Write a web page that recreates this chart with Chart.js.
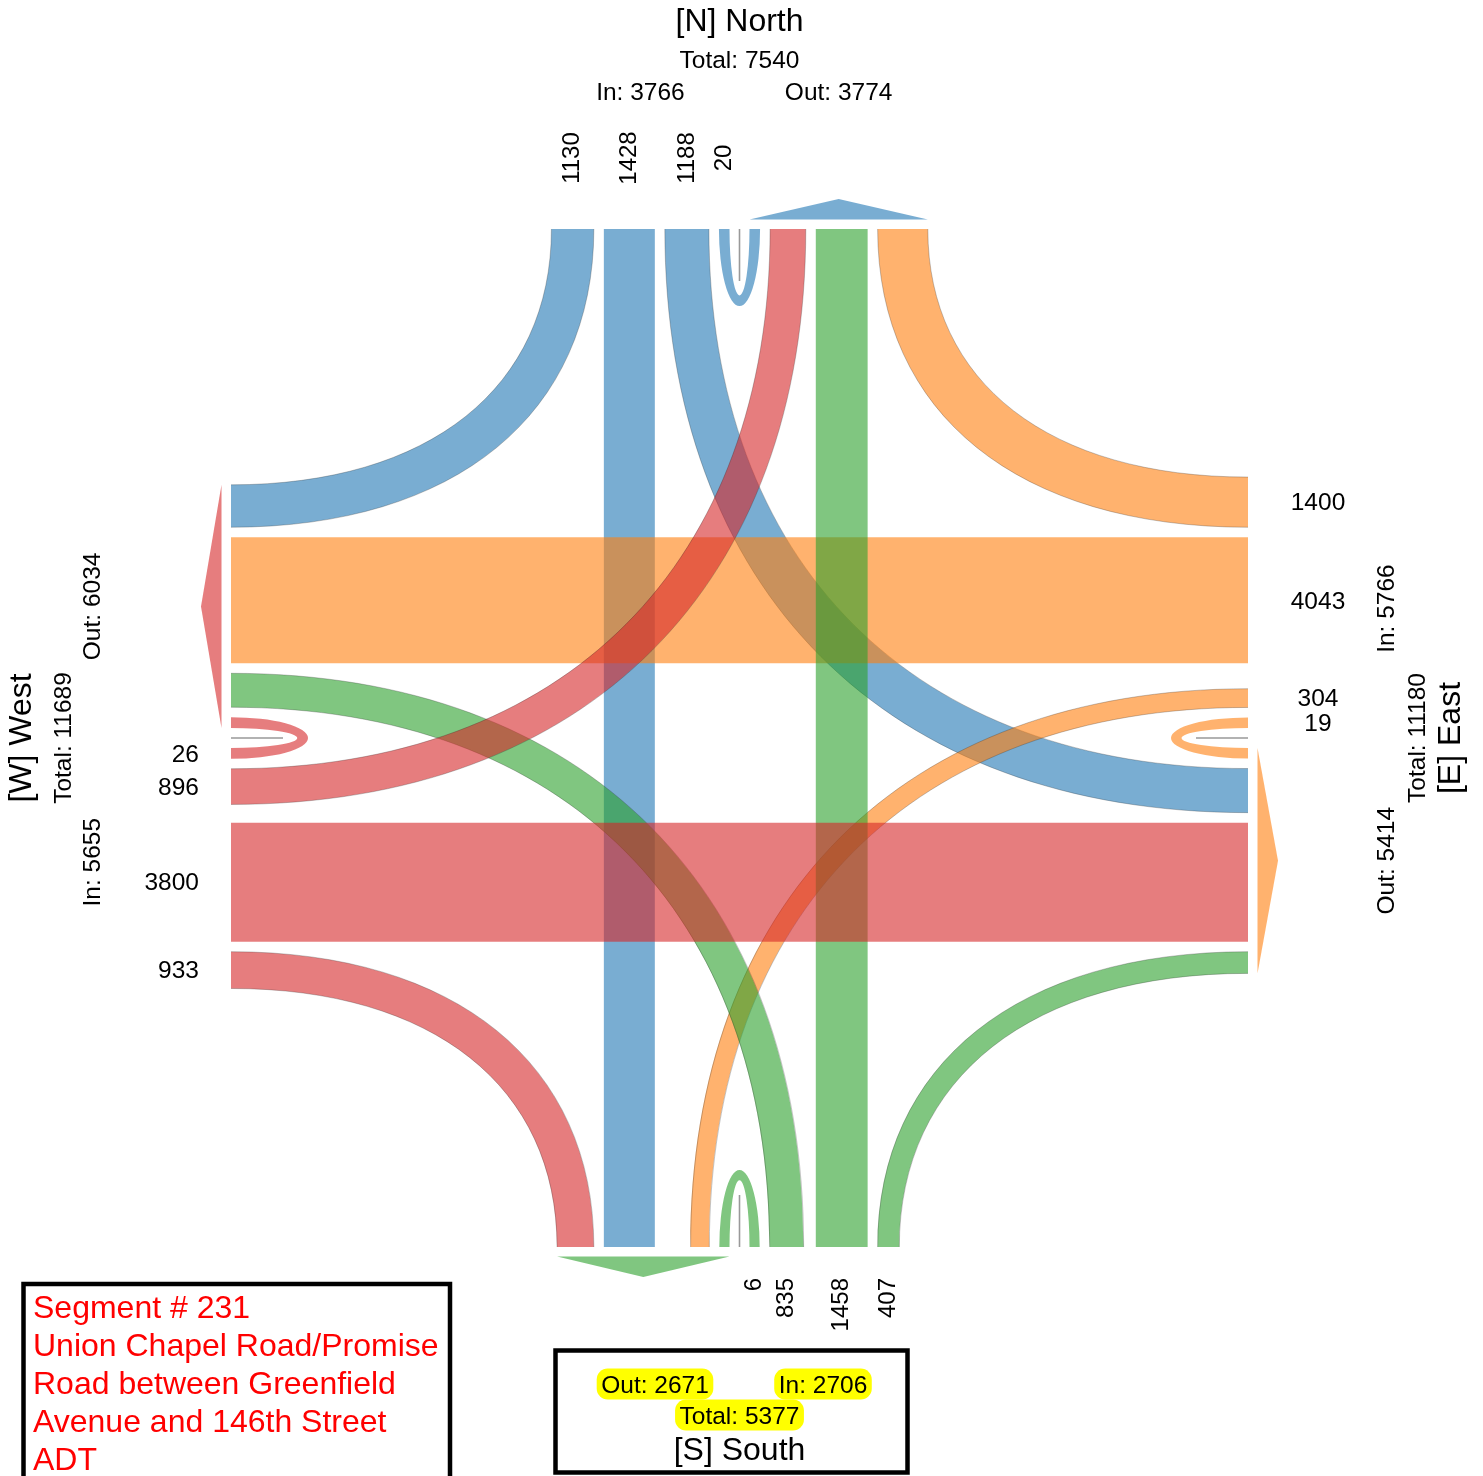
<!DOCTYPE html>
<html>
<head>
<meta charset="utf-8">
<script src="https://cdn.jsdelivr.net/npm/chart.js@4.4.1/dist/chart.umd.min.js"></script>
<style>
  html, body { margin: 0; padding: 0; background: #fff; }
  canvas { display: block; }
</style>
</head>
<body>
<canvas id="turningChart" width="1483" height="1476"></canvas>
<script>
// approaches, clockwise: North, East, South, West
const approaches = ['N', 'E', 'S', 'W'];
const approachTitles = ['[N] North', '[E] East', '[S] South', '[W] West'];

// entering volumes per approach (ADT)
const uTurns = [20, 19, 6, 26];
const leftTurns = [1188, 304, 835, 896];
const throughs = [1428, 4043, 1458, 3800];
const rightTurns = [1130, 1400, 407, 933];

const noteLines = [
    'Segment # 231',
    'Union Chapel Road/Promise',
    'Road between Greenfield',
    'Avenue and 146th Street',
    'ADT'
];

// styling / layout
const sideColors = ['rgba(31,119,180,0.6)', 'rgba(255,127,14,0.6)', 'rgba(44,160,44,0.6)', 'rgba(214,39,40,0.6)'];
const BOX = { left: 231, right: 1248, top: 229, bottom: 1247 };
const CX = (BOX.left + BOX.right) / 2;
const CY = 738;
const GAP = 10;
const MIN_W = 10;
const PX_PER_VEH = 0.0287;
const U_DEPTH = 77;
const CURVE_K = 0.62;   // bezier handle length, fraction of distance to tangent corner
const TXT = 2.5;        // nudge so glyphs sit centred on their anchor
const FONT = "'Liberation Sans', Arial, sans-serif";

const laneWidth = v => MIN_W + v * PX_PER_VEH;
const isNS = i => i === 0 || i === 2;
const edgeOf = i => [BOX.top, BOX.right, BOX.bottom, BOX.left][i];
const inSign = [-1, -1, 1, 1];
const outward = [-1, 1, 1, -1];

// position along the edge for an offset from the centre line
function along(i, off, isIn) {
    const c = isNS(i) ? CX : CY;
    return c + (isIn ? inSign[i] : -inSign[i]) * off;
}

// lane intervals (offsets from centre line)
const inU = [], inL = [], inT = [], inR = [];
const outU = [], outL = [], outT = [], outR = [];
const inCand = [], outCand = [];
for (let i = 0; i < 4; i++) {
    inU[i] = [GAP, GAP + laneWidth(uTurns[i])];
    inL[i] = [inU[i][1] + GAP, inU[i][1] + GAP + laneWidth(leftTurns[i])];
    inCand[i] = inL[i][1] + GAP;
    outU[i] = [GAP, GAP + laneWidth(uTurns[i])];
    const lw = laneWidth(leftTurns[(i + 3) % 4]);
    outL[i] = [outU[i][1] + GAP, outU[i][1] + GAP + lw];
    outCand[i] = outL[i][1] + GAP;
}
for (let i = 0; i < 4; i++) {
    const j = (i + 2) % 4;
    const off = Math.max(inCand[i], outCand[j]);
    inT[i] = [off, off + laneWidth(throughs[i])];
    outT[j] = inT[i];
    inR[i] = [inT[i][1] + GAP, inT[i][1] + GAP + laneWidth(rightTurns[i])];
}
for (let j = 0; j < 4; j++) {
    const w = laneWidth(rightTurns[(j + 1) % 4]);
    outR[j] = [outT[j][1] + GAP, outT[j][1] + GAP + w];
}

const inTotals = approaches.map((_, i) => uTurns[i] + leftTurns[i] + throughs[i] + rightTurns[i]);
const outTotals = approaches.map((_, j) => uTurns[j] + leftTurns[(j + 3) % 4] + throughs[(j + 2) % 4] + rightTurns[(j + 1) % 4]);

const ribbonPlugin = {
    id: 'ribbons',
    afterDatasetsDraw(chart) {
        const ctx = chart.ctx;
        const X = v => chart.scales.x.getPixelForValue(v);
        const Y = v => chart.scales.y.getPixelForValue(v);

        // point on side i: along-edge coordinate a, distance d outwards from the edge
        const pt = (i, a, d) => isNS(i)
            ? { x: X(a), y: Y(edgeOf(i) + outward[i] * d) }
            : { x: X(edgeOf(i) + outward[i] * d), y: Y(a) };

        function straight(i, iv, color) {
            const j = (i + 2) % 4;
            const a0 = along(i, iv[0], true), a1 = along(i, iv[1], true);
            const p = [pt(i, a0, 0), pt(i, a1, 0), pt(j, a1, 0), pt(j, a0, 0)];
            ctx.beginPath();
            ctx.moveTo(p[0].x, p[0].y);
            for (let k = 1; k < 4; k++) ctx.lineTo(p[k].x, p[k].y);
            ctx.closePath();
            ctx.fillStyle = color;
            ctx.fill();
        }

        // bezier edge from A (on side i) to B (on side j)
        function edgeCurve(A, B, iNS, moveFirst) {
            const C = iNS ? { x: A.x, y: B.y } : { x: B.x, y: A.y };
            if (moveFirst) ctx.moveTo(A.x, A.y);
            ctx.bezierCurveTo(A.x + CURVE_K * (C.x - A.x), A.y + CURVE_K * (C.y - A.y),
                B.x + CURVE_K * (C.x - B.x), B.y + CURVE_K * (C.y - B.y), B.x, B.y);
        }

        function turn(i, iv, j, ov, color) {
            const corner = isNS(i) ? { x: X(edgeOf(j)), y: Y(edgeOf(i)) } : { x: X(edgeOf(i)), y: Y(edgeOf(j)) };
            let A = [pt(i, along(i, iv[0], true), 0), pt(i, along(i, iv[1], true), 0)];
            let B = [pt(j, along(j, ov[0], false), 0), pt(j, along(j, ov[1], false), 0)];
            const dist = p => Math.hypot(p.x - corner.x, p.y - corner.y);
            A.sort((p, q) => dist(p) - dist(q));
            B.sort((p, q) => dist(p) - dist(q));
            // outer edge pairs far ends, inner edge pairs near ends
            ctx.beginPath();
            edgeCurve(A[1], B[1], isNS(i), true);
            ctx.lineTo(B[0].x, B[0].y);
            edgeCurve(B[0], A[0], !isNS(i), false);
            ctx.closePath();
            ctx.fillStyle = color;
            ctx.fill();
            ctx.strokeStyle = 'rgba(40,40,40,0.45)';
            ctx.lineWidth = 0.6;
            for (let k = 0; k < 2; k++) {
                ctx.beginPath();
                edgeCurve(A[k], B[k], isNS(i), true);
                ctx.stroke();
            }
        }

        function uLoop(i, color) {
            const w = laneWidth(uTurns[i]);
            const base = pt(i, isNS(i) ? CX : CY, 0);
            const theta = [Math.PI / 2, Math.PI, -Math.PI / 2, 0][i];
            const alongPx = off => isNS(i) ? Math.abs(X(CX + off) - X(CX)) : Math.abs(Y(CY + off) - Y(CY));
            const depthPx = dd => isNS(i) ? Math.abs(Y(edgeOf(i) + dd) - Y(edgeOf(i))) : Math.abs(X(edgeOf(i) + dd) - X(edgeOf(i)));
            const aO = alongPx(GAP + w), aI = alongPx(GAP);
            const dO = depthPx(U_DEPTH), dI = depthPx(U_DEPTH - w);
            const rx = (a, dd) => isNS(i) ? a : dd;
            const ry = (a, dd) => isNS(i) ? dd : a;
            ctx.beginPath();
            ctx.ellipse(base.x, base.y, rx(aO, dO), ry(aO, dO), 0, theta - Math.PI / 2, theta + Math.PI / 2, false);
            ctx.ellipse(base.x, base.y, rx(aI, dI), ry(aI, dI), 0, theta + Math.PI / 2, theta - Math.PI / 2, true);
            ctx.closePath();
            ctx.fillStyle = color;
            ctx.fill();
            // centre line of the approach
            const tip = pt(i, isNS(i) ? CX : CY, -52);
            ctx.beginPath();
            ctx.moveTo(base.x, base.y);
            ctx.lineTo(tip.x, tip.y);
            ctx.strokeStyle = '#999';
            ctx.lineWidth = 1.6;
            ctx.stroke();
        }

        function arrow(i, color) {
            const a0 = along(i, outU[i][0], false);
            const a1 = along(i, outR[i][1], false);
            const p0 = pt(i, a0, 9.5), p1 = pt(i, a1, 9.5), tip = pt(i, (a0 + a1) / 2, 30);
            ctx.beginPath();
            ctx.moveTo(p0.x, p0.y);
            ctx.lineTo(tip.x, tip.y);
            ctx.lineTo(p1.x, p1.y);
            ctx.closePath();
            ctx.fillStyle = color;
            ctx.fill();
        }

        ctx.save();
        for (let i = 0; i < 4; i++) {
            const col = sideColors[i];
            straight(i, inT[i], col);
            turn(i, inR[i], (i + 3) % 4, outR[(i + 3) % 4], col);
            turn(i, inL[i], (i + 1) % 4, outL[(i + 1) % 4], col);
            uLoop(i, col);
            arrow(i, col);
        }
        ctx.restore();

        // ---- text ----
        function label(str, x, y, size, opts = {}) {
            ctx.save();
            if (opts.rotate) {
                ctx.translate(x + TXT, y);
                ctx.rotate(-Math.PI / 2);
            } else {
                ctx.translate(x, y + TXT);
            }
            ctx.font = size + 'px ' + FONT;
            ctx.textAlign = opts.align || 'center';
            ctx.textBaseline = 'middle';
            ctx.fillStyle = opts.color || '#000';
            ctx.fillText(str, 0, 0);
            ctx.restore();
        }

        const laneSets = [[inU, uTurns], [inL, leftTurns], [inT, throughs], [inR, rightTurns]];
        for (let i = 0; i < 4; i++) {
            laneSets.forEach(([ivs, vals]) => {
                const mid = along(i, (ivs[i][0] + ivs[i][1]) / 2, true);
                const s = String(vals[i]);
                if (i === 0) label(s, X(mid) - TXT, Y(BOX.top - 71), 24, { rotate: true });
                if (i === 1) label(s, X(BOX.right + 70), Y(mid) - 1, 24.5);
                if (i === 2) label(s, X(mid) - TXT, Y(BOX.bottom + 31), 24, { rotate: true, align: 'right' });
                if (i === 3) label(s, X(BOX.left - 32), Y(mid) - 1, 24.5, { align: 'right' });
            });
        }

        const inMid = i => along(i, (inU[i][0] + inR[i][1]) / 2, true);
        const outMid = i => along(i, (outU[i][0] + outR[i][1]) / 2, false);
        const total = i => inTotals[i] + outTotals[i];

        // North
        label(approachTitles[0], X(CX), Y(20), 32);
        label('Total: ' + total(0), X(CX), Y(58.5), 24.5);
        label('In: ' + inTotals[0], X(inMid(0)), Y(90.5), 24.5);
        label('Out: ' + outTotals[0], X(outMid(0)), Y(90.5), 24.5);
        // East
        label('In: ' + inTotals[1], X(1385), Y(inMid(1) + 6), 24.5, { rotate: true });
        label('Out: ' + outTotals[1], X(1385), Y(outMid(1)), 24.5, { rotate: true });
        label('Total: ' + total(1), X(1416), Y(CY), 24.5, { rotate: true });
        label(approachTitles[1], X(1449), Y(CY), 32, { rotate: true });
        // West
        label(approachTitles[3], X(20), Y(CY), 32, { rotate: true });
        label('Total: ' + total(3), X(62), Y(CY), 24.5, { rotate: true });
        label('Out: ' + outTotals[3], X(91), Y(outMid(3)), 24.5, { rotate: true });
        label('In: ' + inTotals[3], X(91), Y(inMid(3) - 6), 24.5, { rotate: true });

        // South box
        ctx.save();
        ctx.lineWidth = 4.5;
        ctx.strokeStyle = '#000';
        ctx.strokeRect(X(555.5), Y(1350.5), X(907.5) - X(555.5), Y(1472.5) - Y(1350.5));
        const hl = [
            ['Out: ' + outTotals[2], 655, 1384],
            ['In: ' + inTotals[2], 823, 1384],
            ['Total: ' + total(2), CX, 1415]
        ];
        ctx.font = '24.5px ' + FONT;
        ctx.fillStyle = '#ffff00';
        hl.forEach(([s, x, y]) => {
            const w = ctx.measureText(s).width + 9;
            ctx.beginPath();
            ctx.roundRect(X(x) - w / 2, Y(y) - 15.5, w, 31, 11);
            ctx.fill();
        });
        ctx.restore();
        hl.forEach(([s, x, y]) => label(s, X(x), Y(y), 24.5));
        label(approachTitles[2], X(CX), Y(1448.5), 32);

        // note box
        ctx.save();
        ctx.lineWidth = 4.5;
        ctx.strokeStyle = '#000';
        ctx.strokeRect(X(23.5), Y(1284), X(450) - X(23.5), Y(1500) - Y(1284));
        ctx.font = '32px ' + FONT;
        ctx.fillStyle = '#ff0000';
        ctx.textAlign = 'left';
        ctx.textBaseline = 'alphabetic';
        noteLines.forEach((s, k) => ctx.fillText(s, X(33), Y(1318 + k * 38)));
        ctx.restore();
    }
};

new Chart(document.getElementById('turningChart'), {
    type: 'scatter',
    data: { datasets: [] },
    options: {
        responsive: false,
        animation: false,
        layout: { padding: 0 },
        plugins: {
            legend: { display: false },
            tooltip: { enabled: false }
        },
        scales: {
            x: { type: 'linear', min: 0, max: 1483, display: false },
            y: { type: 'linear', min: 0, max: 1476, reverse: true, display: false }
        }
    },
    plugins: [ribbonPlugin]
});
</script>
</body>
</html>
